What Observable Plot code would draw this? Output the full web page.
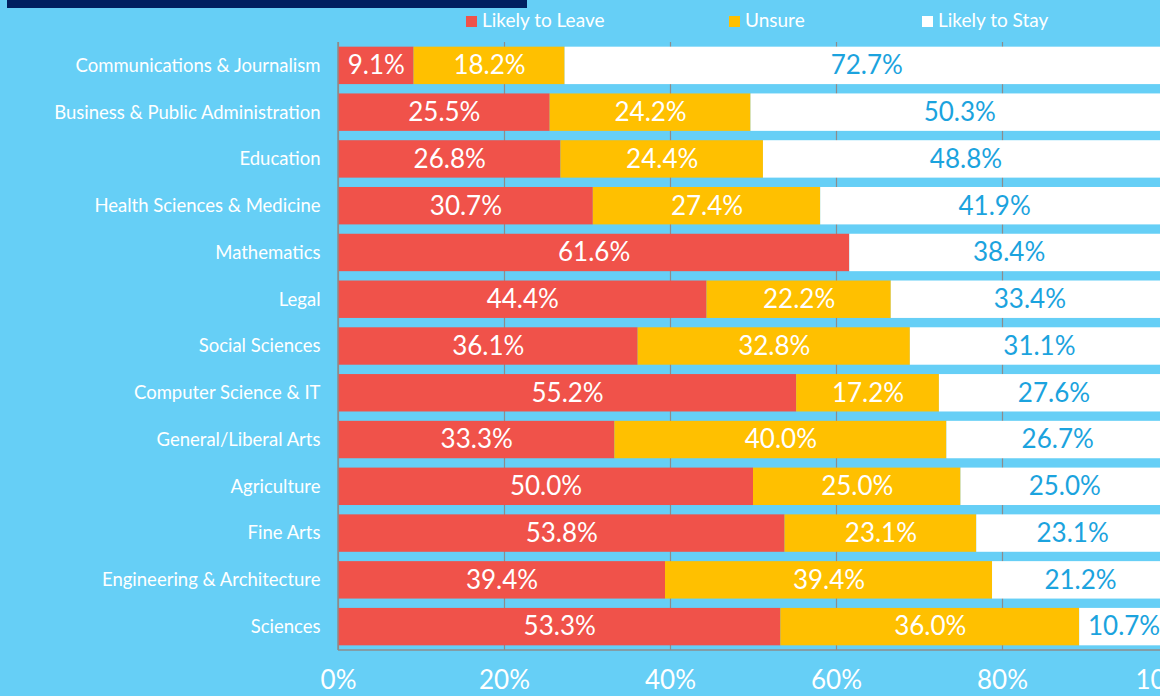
<!DOCTYPE html>
<html><head><meta charset="utf-8">
<script src="https://cdn.jsdelivr.net/npm/d3@7"></script>
<script src="https://cdn.jsdelivr.net/npm/@observablehq/plot@0.6"></script>
<style>
html,body{margin:0;padding:0;background:#66CFF6;overflow:hidden;width:1160px;height:696px}
#wrap{position:relative;width:1160px;height:696px;font-family:Lato,"Open Sans",sans-serif;overflow:hidden}
#navy{position:absolute;left:7px;top:0;width:520px;height:8px;background:#002060}
.lg{position:absolute;top:9px;color:#fff;font-size:19px;line-height:22px;white-space:nowrap}
.lg span{display:inline-block;width:11px;height:11px;margin-right:5px;vertical-align:0px}
#chart{position:absolute;left:0;top:0;width:1200px}
#chart svg{max-width:none !important}
</style></head>
<body><div id="wrap"><div id="navy"></div><div id="chart"></div></div>
<script>
const categories = ["Communications & Journalism","Business & Public Administration","Education","Health Sciences & Medicine","Mathematics","Legal","Social Sciences","Computer Science & IT","General/Liberal Arts","Agriculture","Fine Arts","Engineering & Architecture","Sciences"];
const leave  = [9.1,25.5,26.8,30.7,61.6,44.4,36.1,55.2,33.3,50.0,53.8,39.4,53.3];
const unsure = [18.2,24.2,24.4,27.4,0,22.2,32.8,17.2,40.0,25.0,23.1,39.4,36.0];
const stay   = [72.7,50.3,48.8,41.9,38.4,33.4,31.1,27.6,26.7,25.0,23.1,21.2,10.7];
const seriesNames = ["Likely to Leave","Unsure","Likely to Stay"];
const seriesColors = ["#F0524A","#FFC000","#FFFFFF"];
const labelColors = ["#FFFFFF","#FFFFFF","#1BA3DE"];
const xTicks = [0,20,40,60,80,100];

const seriesValues = [leave, unsure, stay];
const rows = [];
categories.forEach((c,i) => seriesNames.forEach((s,j) => rows.push({cat:c, s, j, v: seriesValues[j][i]})));

// legend
const legendX = [466, 729, 922];
seriesNames.forEach((s,j) => {
  const d = document.createElement("div");
  d.className = "lg"; d.style.left = legendX[j] + "px";
  d.innerHTML = `<span style="background:${seriesColors[j]}"></span>${s}`;
  document.getElementById("wrap").appendChild(d);
});

const font = 'Lato, "Open Sans", sans-serif';
const chart = Plot.plot({
  width: 1200, height: 696,
  marginLeft: 338, marginRight: 32, marginTop: 42, marginBottom: 46,
  style: {background: "transparent", color: "white", fontFamily: font, maxWidth: "none"},
  x: {domain: [0,100]},
  y: {domain: categories, paddingInner: 0.2, paddingOuter: 0.1, round: false},
  color: {type: "identity"},
  marks: [
    Plot.gridX(xTicks, {stroke: "#8C8C8C", strokeOpacity: 1, strokeWidth: 1.2}),
    Plot.barX(rows, {x: "v", y: "cat", z: "s", fill: d => seriesColors[d.j]}),
    Plot.text(rows, Plot.stackX({x: "v", y: "cat", z: "s",
      text: d => d.v > 0 ? d.v.toFixed(1) + "%" : null,
      fill: d => labelColors[d.j], fontSize: 26})),
    (index, scales, values, dims) => {
      const g = d3.create("svg:g");
      const y = dims.height - dims.marginBottom;
      g.append("line").attr("x1", dims.marginLeft).attr("x2", dims.width - dims.marginRight)
        .attr("y1", y).attr("y2", y).attr("stroke", "#8C8C8C").attr("stroke-width", 1.5);
      g.append("line").attr("x1", dims.marginLeft).attr("x2", dims.marginLeft)
        .attr("y1", dims.marginTop).attr("y2", y).attr("stroke", "#8C8C8C").attr("stroke-width", 1.5);
      return g.node();
    },
    Plot.axisY({tickSize: 0, tickPadding: 18, fontSize: 18.5, label: null}),
    Plot.axisX({ticks: xTicks, tickFormat: d => d + "%", tickSize: 0, tickPadding: 20, fontSize: 26, label: null})
  ]
});
document.getElementById("chart").appendChild(chart);
</script></body></html>
